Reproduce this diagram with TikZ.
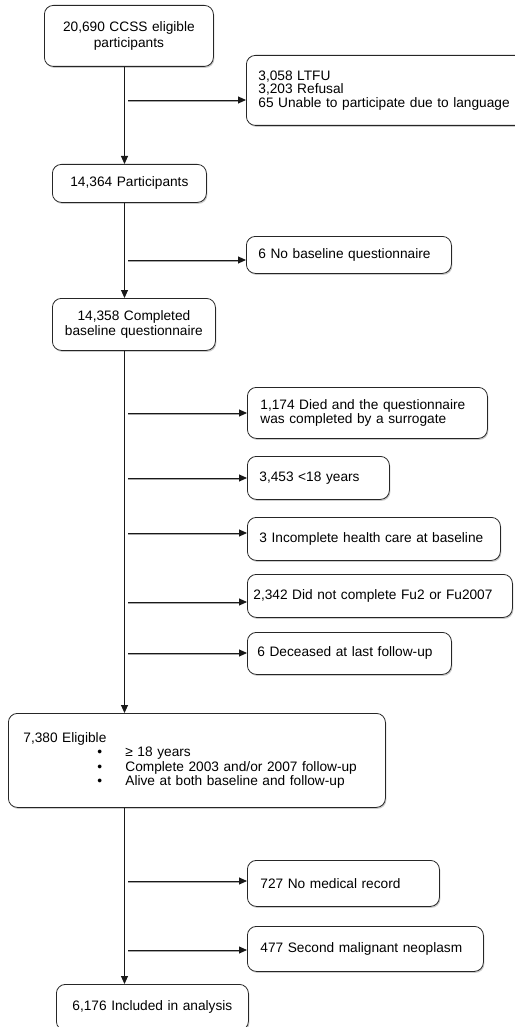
\documentclass[tikz,border=0pt]{standalone}
\usepackage{fontspec}
\setmainfont{Liberation Sans}
\usetikzlibrary{arrows.meta,shadows}
\tikzset{
	box/.style={draw=black!85, line width=0.8pt, rounded corners=9pt, fill=white, anchor=north west,
		drop shadow={shadow xshift=1pt, shadow yshift=-1.5pt, fill=black!40, opacity=0.5},
		inner xsep=12pt, inner ysep=0pt, font=\fontsize{13.7}{13.3}\selectfont},
	lbox/.style={box, align=left},
	cbox/.style={box, align=center},
	flow/.style={draw=black!90, line width=0.9pt, -{Triangle[length=8pt,width=7pt]}},
	excl/.style={flow, preaction={draw=black!35, line width=1pt, -, shorten >=8pt, transform canvas={yshift=-1.6pt}}}
}
\begin{document}
\begin{tikzpicture}[x=1pt,y=1pt]
	\useasboundingbox (0,0) rectangle (514,-1027);
	\node[cbox, text width=145, minimum height=61, font=\fontsize{13.7}{16.5}\selectfont] (start) at (44,-5) {20,690 CCSS eligible\\participants};
	\node[lbox, text width=270, minimum height=70] (ltfu) at (246,-55) {3,058 LTFU\\3,203 Refusal\\65 Unable to participate due to language};
	\node[cbox, text width=130, minimum height=38] (part) at (52,-164) {14,364 Participants};
	\node[lbox, text width=181, minimum height=37] (nobase) at (246,-236) {6 No baseline questionnaire};
	\node[cbox, text width=139, minimum height=52, font=\fontsize{13.7}{15}\selectfont] (compl) at (52,-298) {14,358 Completed\\baseline questionnaire};
	\node[lbox, inner xsep=13pt, text width=214, minimum height=51, font=\fontsize{13.7}{11.2}\selectfont] (died) at (247,-387) {1,174 Died and the questionnaire\\was completed by a surrogate};
	\node[lbox, text width=118, minimum height=43] (age) at (247,-456) {3,453 <18 years};
	\node[lbox, text width=229, minimum height=43] (inc) at (247,-517) {3 Incomplete health care at baseline};
	\node[lbox, inner xsep=6pt, text width=253, minimum height=43] (fu) at (247,-574) {2,342 Did not complete Fu2 or Fu2007};
	\node[lbox, inner xsep=10pt, text width=184, minimum height=42] (dec) at (247,-632) {6 Deceased at last follow-up};
	\node[lbox, inner xsep=15pt, text width=347, minimum height=94, font=\fontsize{13.7}{14.3}\selectfont] (elig) at (8,-713) {7,380 Eligible\\
		\hspace*{74pt}\makebox[28pt][l]{•}≥ 18 years\\
		\hspace*{74pt}\makebox[28pt][l]{•}Complete 2003 and/or 2007 follow-up\\
		\hspace*{74pt}\makebox[28pt][l]{•}Alive at both baseline and follow-up};
	\node[lbox, inner xsep=13pt, text width=166, minimum height=46] (nomed) at (247,-860) {727 No medical record};
	\node[lbox, inner xsep=13pt, text width=210, minimum height=45] (smn) at (247,-926) {477 Second malignant neoplasm};
	\node[cbox, text width=168, minimum height=46] (final) at (56,-984) {6,176 Included in analysis};
	\coordinate (tk) at (124.5,0);
	\draw[flow] (start.south -| tk) -- (part.north -| tk);
	\draw[flow] (part.south -| tk) -- (compl.north -| tk);
	\draw[flow] (compl.south -| tk) -- (elig.north -| tk);
	\draw[flow] (elig.south -| tk) -- (final.north -| tk);
	\coordinate (b1) at (128,-100);
	\coordinate (b2) at (128,-260);
	\coordinate (b3) at (128,-413);
	\coordinate (b4) at (128,-478);
	\coordinate (b5) at (128,-533);
	\coordinate (b6) at (128,-602);
	\coordinate (b7) at (128,-653);
	\coordinate (b8) at (128,-881);
	\coordinate (b9) at (128,-950);
	\draw[excl] (b1) -- (b1 -| ltfu.west);
	\draw[excl] (b2) -- (b2 -| nobase.west);
	\draw[excl] (b3) -- (b3 -| died.west);
	\draw[excl] (b4) -- (b4 -| age.west);
	\draw[excl] (b5) -- (b5 -| inc.west);
	\draw[excl] (b6) -- (b6 -| fu.west);
	\draw[excl] (b7) -- (b7 -| dec.west);
	\draw[excl] (b8) -- (b8 -| nomed.west);
	\draw[excl] (b9) -- (b9 -| smn.west);
\end{tikzpicture}
\end{document}
